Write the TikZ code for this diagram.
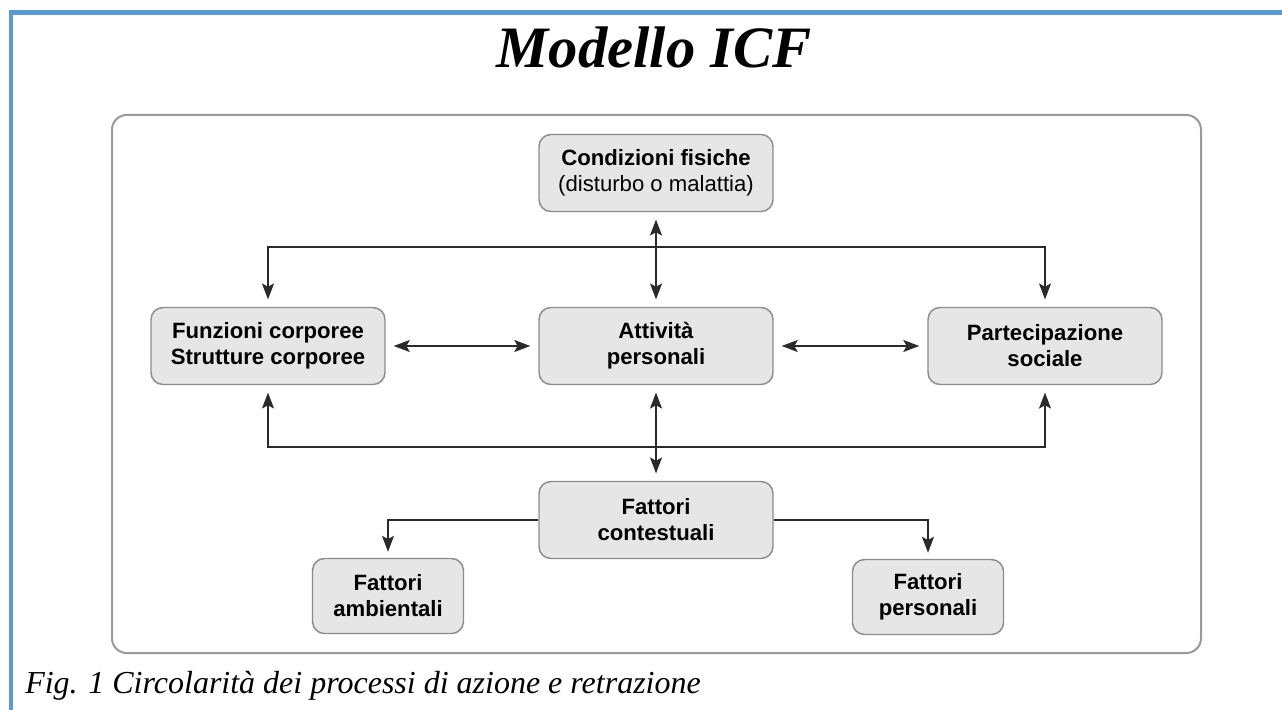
\documentclass[tikz,border=0pt]{standalone}
\usepackage{fontspec}
\setmainfont{Liberation Serif}
\setsansfont{Liberation Sans}
\usetikzlibrary{arrows.meta}
\definecolor{bluebar}{HTML}{5B9BD5}
\definecolor{boxfill}{HTML}{E6E6E6}
\definecolor{boxline}{HTML}{8C8C8C}
\definecolor{frameline}{HTML}{9A9A9A}
\definecolor{arrline}{HTML}{2A2A2A}
\tikzset{
  box/.style={draw=boxline, line width=1.1pt, fill=boxfill, rounded corners=9pt,
    minimum width=175.5pt, minimum height=57.75pt, align=center, inner sep=2pt,
    font=\sffamily\bfseries\fontsize{16.6}{19.5}\selectfont},
  smallbox/.style={box, minimum width=113.25pt, minimum height=56.25pt},
  tip/.style={},
  arr/.style={draw=arrline, line width=1.1pt,
    arrows={-Stealth[length=12pt,width=9pt,inset=2.5pt]}},
  darr/.style={draw=arrline, line width=1.1pt,
    arrows={Stealth[length=12pt,width=9pt,inset=2.5pt]-Stealth[length=12pt,width=9pt,inset=2.5pt]}},
}
\begin{document}
\begin{tikzpicture}[x=0.75pt,y=-0.75pt]
\useasboundingbox (0,0) rectangle (1282,710);
% blue border
\draw[bluebar, line width=3.6pt] (11,710) -- (11,12.5) -- (1282,12.5);
% title
\node[anchor=base, font=\rmfamily\bfseries\itshape\fontsize{44}{50}\selectfont, inner sep=0pt] (title) at (654,68) {Modello ICF};
% outer frame
\draw[frameline, line width=1.5pt, rounded corners=11pt] (112,115) rectangle (1201,653);
% nodes
\node[box] (cond) at (656,173) {Condizioni fisiche\\{\mdseries(disturbo o malattia)}};
\node[box] (funz) at (268,346) {Funzioni corporee\\Strutture corporee};
\node[box] (att) at (656,346) {Attività\\personali};
\node[box] (part) at (1045,346) {Partecipazione\\sociale};
\node[box] (ctx) at (656,520) {Fattori\\contestuali};
\node[smallbox] (amb) at (388,596) {Fattori\\ambientali};
\node[smallbox] (pers) at (928,597) {Fattori\\personali};
\coordinate (topline) at (656,247);
\coordinate (botline) at (656,447);
% connectors
\draw[darr] ([yshift=-5.5pt]cond.south) -- ([yshift=5.5pt]att.north);
\draw[darr] ([yshift=-5.5pt]att.south) -- ([yshift=5.5pt]ctx.north);
\draw[darr] ([yshift=5.5pt]funz.north) -- (funz.north |- topline) -| ([yshift=5.5pt]part.north);
\draw[darr] ([yshift=-5.5pt]funz.south) -- (funz.south |- botline) -| ([yshift=-5.5pt]part.south);
\draw[darr] ([xshift=6pt]funz.east) -- ([xshift=-6pt]att.west);
\draw[darr] ([xshift=6pt]att.east) -- ([xshift=-6pt]part.west);
\draw[arr] (ctx.west) -| ([yshift=4.5pt]amb.north);
\draw[arr] (ctx.east) -| ([yshift=4.5pt]pers.north);
% caption
\node[anchor=base west, font=\rmfamily\itshape\fontsize{24}{28}\selectfont, inner sep=0pt] (cap) at (25,693) {Fig. 1 Circolarità dei processi di azione e retrazione};
\end{tikzpicture}
\end{document}
